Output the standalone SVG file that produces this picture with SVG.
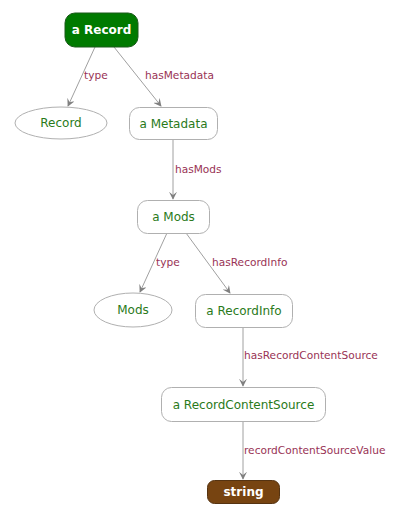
<svg xmlns="http://www.w3.org/2000/svg" width="407" height="516" viewBox="0 0 407 516">
<style>
.n{fill:#fff;stroke:#b0b0b0;stroke-width:1}
.t{font-family:"DejaVu Sans",Verdana,sans-serif;font-size:12px;fill:#2a7a1a;text-anchor:middle}
.w{font-family:"DejaVu Sans",Verdana,sans-serif;font-size:12px;fill:#fff;font-weight:bold;text-anchor:middle}
.e{stroke:#a0a0a0;stroke-width:1;fill:none;marker-end:url(#a)}
.l{font-family:"DejaVu Sans",Verdana,sans-serif;font-size:10.6px;fill:#993355}
</style>
<defs>
<marker id="a" viewBox="0 0 10 10" refX="9" refY="5" markerWidth="8" markerHeight="8" orient="auto" markerUnits="userSpaceOnUse">
<path d="M0,0 L10,5 L0,10 L4,5 Z" fill="#808080"/>
</marker>
</defs>
<rect width="407" height="516" fill="#fff"/>
<g id="connectors">
<line class="e" x1="95" y1="47" x2="68" y2="106"/>
<line class="e" x1="114" y1="47" x2="161" y2="106"/>
<line class="e" x1="173" y1="139" x2="173" y2="199"/>
<line class="e" x1="167" y1="233" x2="140" y2="292"/>
<line class="e" x1="186" y1="233" x2="230" y2="293"/>
<line class="e" x1="243" y1="327" x2="243" y2="386"/>
<line class="e" x1="243" y1="421" x2="243" y2="479"/>
<text class="l" x="84" y="79">type</text>
<text class="l" x="145" y="79">hasMetadata</text>
<text class="l" x="175" y="173">hasMods</text>
<text class="l" x="156" y="266">type</text>
<text class="l" x="212" y="266">hasRecordInfo</text>
<text class="l" x="244" y="359">hasRecordContentSource</text>
<text class="l" x="244" y="454">recordContentSourceValue</text>
</g>
<g id="aRecord"><rect x="65" y="13" width="73" height="34" rx="10" fill="#007a00" stroke="#1a5a1a"/><text class="w" x="101.5" y="34">a Record</text></g>
<g id="Record"><ellipse class="n" cx="61" cy="123" rx="46" ry="16"/><text class="t" x="61" y="127">Record</text></g>
<g id="aMetadata"><rect class="n" x="129.5" y="107.5" width="88" height="32" rx="10"/><text class="t" x="173.5" y="127.5">a Metadata</text></g>
<g id="aMods"><rect class="n" x="137.5" y="200.5" width="72" height="33" rx="10"/><text class="t" x="173.5" y="221">a Mods</text></g>
<g id="Mods"><ellipse class="n" cx="133" cy="310" rx="39" ry="17"/><text class="t" x="133" y="314">Mods</text></g>
<g id="aRecordInfo"><rect class="n" x="195.5" y="294.5" width="97" height="33" rx="10"/><text class="t" x="244" y="315">a RecordInfo</text></g>
<g id="aRecordContentSource"><rect class="n" x="161.5" y="387.5" width="164" height="34" rx="10"/><text class="t" x="243.5" y="408.5">a RecordContentSource</text></g>
<g id="string"><rect x="207.5" y="480.5" width="72" height="23" rx="7" fill="#774411" stroke="#553311"/><text class="w" x="243.5" y="496">string</text></g>
</svg>
